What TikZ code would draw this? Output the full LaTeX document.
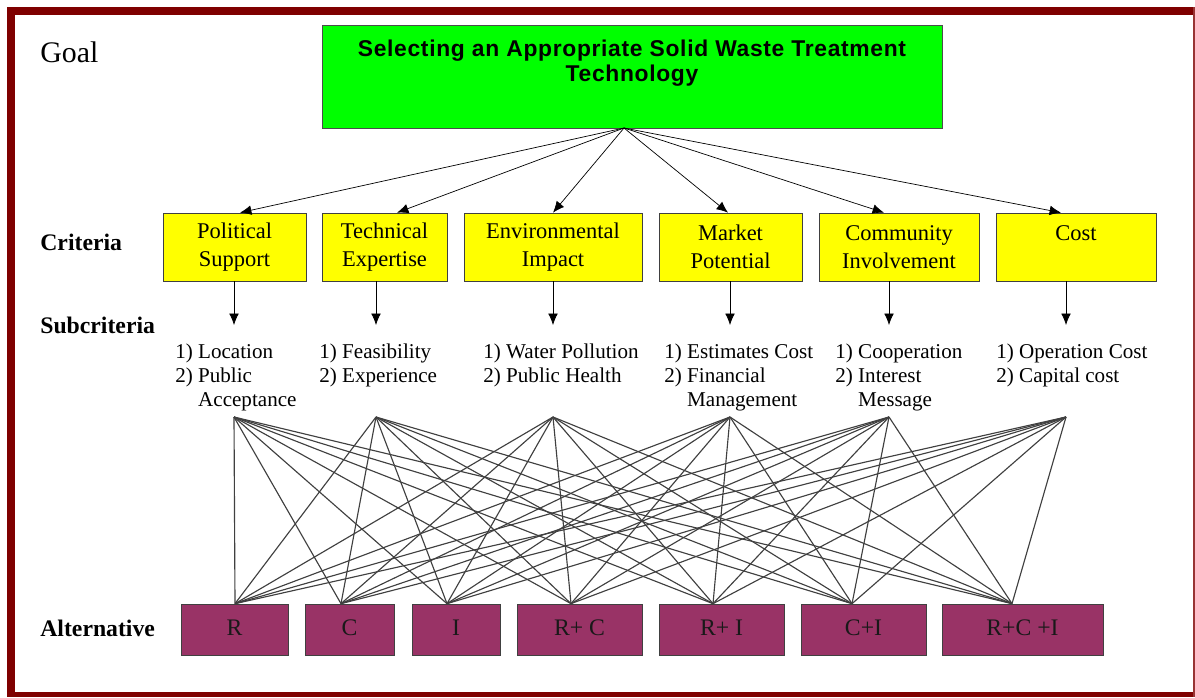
\documentclass[tikz,border=0pt]{standalone}
\usepackage{fontspec}
\setmainfont{Liberation Serif}
\newfontfamily\titlefont[LetterSpace=3]{Liberation Sans}
\usetikzlibrary{arrows.meta}
\tikzset{>={Latex[length=6.5pt,width=5.5pt]}}
\definecolor{framered}{HTML}{7F0000}
\definecolor{goalgreen}{HTML}{00FF00}
\definecolor{crityellow}{HTML}{FFFF00}
\definecolor{altpurple}{HTML}{993366}
\tikzset{
  level/.style={anchor=west,inner sep=0pt,font=\fontsize{13.5}{16}\selectfont\bfseries},
  crit/.style={draw=black!75,fill=crityellow,minimum height=1.36cm,align=center,inner sep=0pt,
    font=\fontsize{12.8}{15.9}\selectfont},
  sub/.style={anchor=north west,align=left,inner sep=0pt,font=\fontsize{12}{13.4}\selectfont},
  alt/.style={draw=black!75,fill=altpurple,minimum height=1.02cm,text=black!90,
    font=\fontsize{13.5}{15}\selectfont},
  fan/.style={black!75,line width=.65pt}
}

\begin{document}
\begin{tikzpicture}[x=.02cm,y=-.02cm]
\useasboundingbox (0,0) rectangle (1195,697);
\fill[framered] (7,7) rectangle (1195,15);
\fill[framered] (7,7) rectangle (15,697);
\fill[framered] (7,692) rectangle (1195,697);
\fill[framered!80] (1193,7) rectangle (1195,697);

\node[level,font=\fontsize{17}{20}\selectfont] (goallbl) at (40,52) {Goal};
\node[level] (critlbl) at (40,242) {Criteria};
\node[level] (sublbl) at (40,325) {Subcriteria};
\node[level] (altlbl) at (40,628) {Alternative};

\node[draw=black!70,fill=goalgreen,minimum width=12.4cm,minimum height=2.06cm,align=center,
  font=\titlefont\bfseries\fontsize{13}{14.3}\selectfont] (goal) at (632,76.5)
  {Selecting an Appropriate Solid Waste Treatment\\Technology\\[4pt]\mbox{}};
\coordinate (g) at (624,128);

\foreach \n/\x/\w/\txt in {1/234.5/2.86/{Political\\Support},2/384.5/2.5/{Technical\\Expertise},
  3/553/3.56/{Environmental\\Impact},4/730.5/2.86/{Market\\Potential},
  5/899/3.2/{Community\\Involvement},6/1076/3.2/{Cost\\\mbox{}}}
  \node[crit,minimum width=\w cm] (c\n) at (\x,247) {\txt};

\foreach \n/\x in {1/240,2/397,3/553,4/728,5/884,6/1061}
  \draw[->] (g) -- (c\n.north -| \x,0);

\foreach \n/\x in {1/234,2/376,3/553,4/730,5/889,6/1066}{
  \coordinate (p\n) at (\x,325);
  \coordinate (t\n) at (\x,417);
  \draw[->] (c\n.south -| p\n) -- (p\n);
}

\node[sub] (s1) at (175,344) {1) Location\\2) Public\\\hphantom{2) }Acceptance};
\node[sub] (s2) at (319,344) {1) Feasibility\\2) Experience};
\node[sub] (s3) at (483,344) {1) Water Pollution\\2) Public Health};
\node[sub] (s4) at (664,344) {1) Estimates Cost\\2) Financial\\\hphantom{2) }Management};
\node[sub] (s5) at (835,344) {1) Cooperation\\2) Interest\\\hphantom{2) }Message};
\node[sub] (s6) at (996,344) {1) Operation Cost\\2) Capital cost};

\foreach \n/\x/\w/\txt/\b in {1/234.5/2.14/R/235,2/349.5/1.78/C/341,3/456/1.76/I/447,
  4/579.5/2.5/{R+ C}/571,5/721.5/2.5/{R+ I}/713,6/863.5/2.5/C+I/852,7/1022.5/3.22/{R+C +I}/1012}{
  \node[alt,minimum width=\w cm] (a\n) at (\x,629.5) {\raisebox{2.3pt}{\txt}};
  \coordinate (b\n) at (a\n.north -| \b,0);
}

\foreach \i in {1,...,6}
  \foreach \j in {1,...,7}
    \draw[fan] (t\i) -- (b\j);
\end{tikzpicture}
\end{document}
